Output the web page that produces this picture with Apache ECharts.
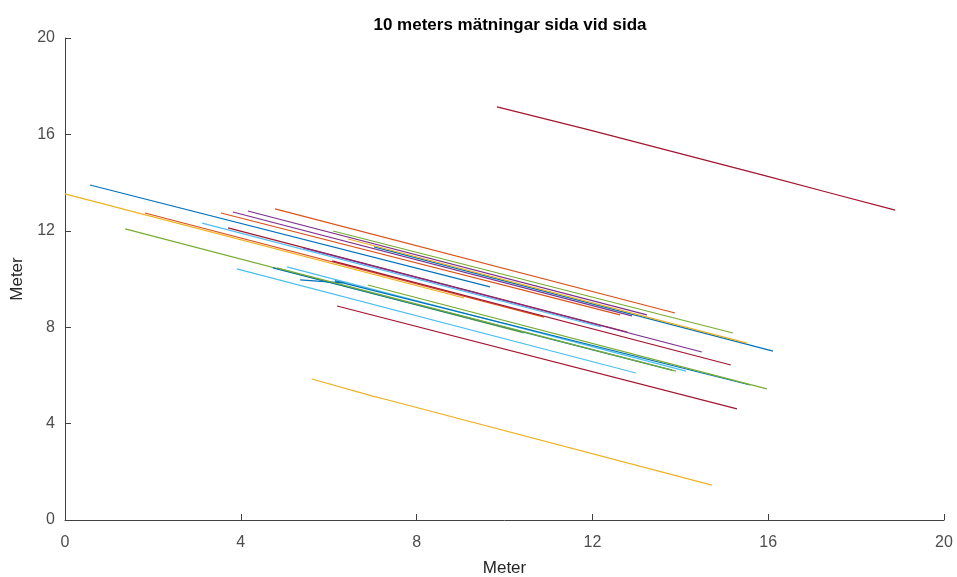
<!DOCTYPE html>
<html>
<head>
<meta charset="utf-8">
<script src="https://cdn.jsdelivr.net/npm/echarts@6/dist/echarts.min.js"></script>
<style>
html, body { margin: 0; padding: 0; background: #fff; }
#main { width: 957px; height: 577px; }
</style>
</head>
<body>
<div id="main"></div>
<script>
// axis ticks
var xTicks = [0, 4, 8, 12, 16, 20];
var yTicks = [0, 4, 8, 12, 16, 20];

// MATLAB default colour order
var matBlue = '#0072BD', matOrange = '#D95319', matYellow = '#EDB120',
	matPurple = '#7E2F8E', matGreen = '#77AC30', matCyan = '#4DBEEE', matRed = '#A2142F';

var m01 = [[0.57, 13.90], [9.67, 9.67]];
var m02 = [[0.00, 13.53], [9.08, 9.21]];
var m03 = [[1.82, 12.74], [10.90, 8.42]];
var m04 = [[1.37, 12.08], [10.44, 7.76]];
var m05 = [[3.12, 12.32], [12.20, 8.01]];
var m06 = [[3.55, 12.74], [12.63, 8.51]];
var m07 = [[3.82, 12.78], [12.90, 8.47]];
var m08 = [[4.16, 12.82], [13.24, 8.51]];
var m09 = [[4.78, 12.91], [13.88, 8.59]];
var m10 = [[3.71, 12.12], [12.79, 7.80]];
var m11 = [[3.91, 10.42], [12.99, 6.10]];
var m12 = [[5.05, 10.50], [14.13, 6.18]];
var m13 = [[5.35, 9.96], [6.37, 9.83], [6.14, 9.92], [15.59, 5.60]];
var m14 = [[6.19, 8.88], [15.29, 4.61]];
var m15 = [[5.62, 5.85], [7.00, 5.14], [7.33, 4.99], [14.72, 1.45]];
var m16 = [[9.83, 17.14], [11.88, 16.21], [15.88, 14.31], [17.41, 13.57], [18.89, 12.86]];
var m17 = [[6.10, 11.99], [15.20, 7.76]];
var m18 = [[7.03, 11.33], [16.11, 7.01]];
var m19 = [[6.44, 11.66], [15.52, 7.34]];
var m20 = [[5.42, 11.29], [14.49, 6.97]];
var m21 = [[6.08, 10.75], [15.15, 6.43]];
var m22 = [[4.73, 10.46], [13.81, 6.22]];
var m23 = [[4.82, 10.46], [13.90, 6.18]];
var m24 = [[6.89, 9.75], [15.97, 5.44]];

var measurements = [m01, m02, m03, m04, m05, m06, m07, m08, m09, m10, m11, m12,
	m13, m14, m15, m16, m17, m18, m19, m20, m21, m22, m23, m24];
var lineColors = [matBlue, matYellow, matOrange, matGreen, matCyan, matOrange, matPurple, matPurple,
	matOrange, matRed, matCyan, matCyan, matBlue, matRed, matYellow, matRed,
	matGreen, matBlue, matYellow, matPurple, matRed, matBlue, matGreen, matGreen];

var myChart = echarts.init(document.getElementById('main'));

var series = [];
for (var i = 0; i < measurements.length; i++) {
	series.push({
		type: 'line',
		data: measurements[i],
		showSymbol: false,
		silent: true,
		lineStyle: { color: lineColors[i], width: 1.2 }
	});
}

var axisText = { color: '#4d4d4d', fontSize: 16, fontFamily: 'Liberation Sans' };

var option = {
	animation: false,
	backgroundColor: '#fff',
	title: {
		text: '10 meters mätningar sida vid sida',
		left: 505,
		textAlign: 'center',
		top: 12,
		textStyle: { fontSize: 17, fontWeight: 'bold', color: '#000', fontFamily: 'Liberation Sans' }
	},
	grid: { left: 65, right: 13, top: 38, bottom: 57, outerBoundsMode: 'none', containLabel: false },
	xAxis: {
		type: 'value',
		min: xTicks[0],
		max: xTicks[xTicks.length - 1],
		interval: 4,
		name: 'Meter',
		nameLocation: 'middle',
		nameGap: 40,
		nameTextStyle: { color: '#262626', fontSize: 17, fontFamily: 'Liberation Sans' },
		axisLine: { lineStyle: { color: '#404040', width: 1 } },
		axisTick: { inside: true, length: 6, lineStyle: { color: '#404040' } },
		axisLabel: Object.assign({ margin: 15 }, axisText),
		splitLine: { show: false }
	},
	yAxis: {
		type: 'value',
		min: yTicks[0],
		max: yTicks[yTicks.length - 1],
		interval: 4,
		name: 'Meter',
		nameLocation: 'middle',
		nameGap: 33,
		nameTextStyle: { color: '#262626', fontSize: 17, fontFamily: 'Liberation Sans' },
		axisLine: { lineStyle: { color: '#404040', width: 1 } },
		axisTick: { inside: true, length: 6, lineStyle: { color: '#404040' } },
		axisLabel: Object.assign({ margin: 10 }, axisText),
		splitLine: { show: false }
	},
	series: series
};
myChart.setOption(option);
</script>
</body>
</html>
